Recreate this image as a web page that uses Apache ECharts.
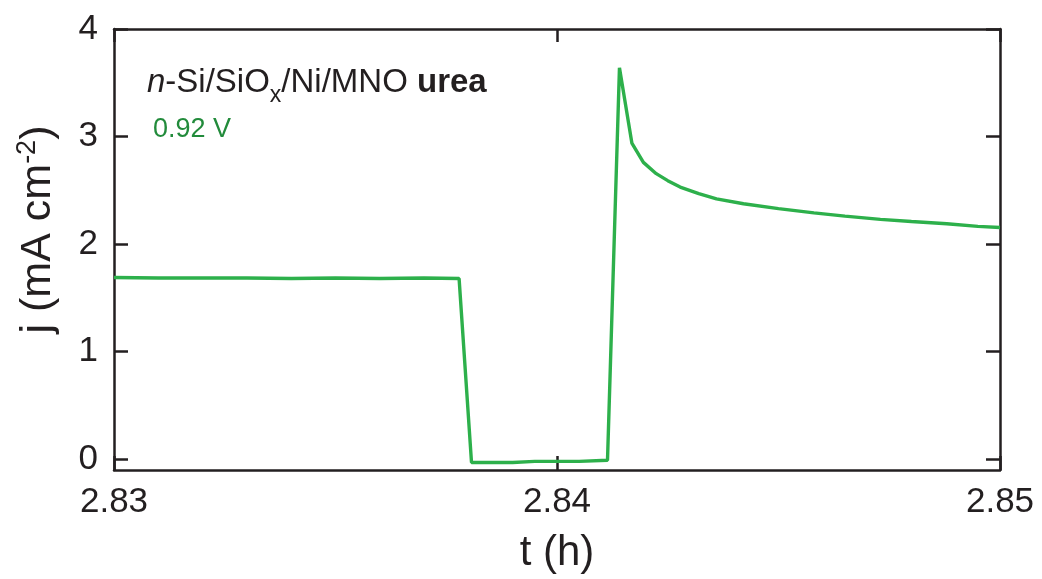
<!DOCTYPE html>
<html>
<head>
<meta charset="utf-8">
<script src="https://cdn.jsdelivr.net/npm/echarts@6/dist/echarts.min.js"></script>
<style>
html,body{margin:0;padding:0;background:#fff;}
#c{width:1042px;height:579px;}
</style>
</head>
<body>
<div id="c"></div>
<script>
// time (h)
const tValues = [
  2.8300, 2.8310, 2.8320, 2.8330, 2.8340, 2.8350, 2.8360, 2.8370, 2.83779,
  2.83807, 2.8385, 2.8390, 2.8395, 2.8400, 2.8405, 2.84114,
  2.84141, 2.84169, 2.84195, 2.84224, 2.84250, 2.84278, 2.84320, 2.84360,
  2.84421, 2.84500, 2.84580, 2.84650, 2.84730, 2.84800, 2.84880, 2.84950, 2.85000
];
// current density j (mA cm^-2)
const jValues = [
  1.69, 1.685, 1.685, 1.685, 1.68, 1.685, 1.68, 1.685, 1.68,
  -0.03, -0.03, -0.03, -0.02, -0.02, -0.02, -0.01,
  3.64, 2.94, 2.76, 2.655, 2.59, 2.53, 2.47, 2.42,
  2.375, 2.33, 2.29, 2.26, 2.23, 2.21, 2.19, 2.165, 2.155
];
const xTicks = [2.83, 2.84, 2.85];
const yTicks = [0, 1, 2, 3, 4];

const data = tValues.map((t, i) => [t, jValues[i]]);
const frame = '#231f20';
const green = '#2db04b';
const font = '"Liberation Sans", Arial, sans-serif';

const chart = echarts.init(document.getElementById('c'));
const axisCommon = {
  axisLine: {show: true, onZero: false, lineStyle: {color: frame, width: 2.5}},
  axisTick: {show: true, inside: true, length: 14, lineStyle: {color: frame, width: 2.5}},
  splitLine: {show: false}
};
chart.setOption({
  animation: false,
  backgroundColor: '#fff',
  grid: {left: 114, top: 29, right: 42, bottom: 109, containLabel: false},
  xAxis: [
    Object.assign({}, axisCommon, {
      type: 'value', min: 2.83, max: 2.85, interval: 0.01, position: 'bottom',
      axisTick: Object.assign({}, axisCommon.axisTick, {customValues: xTicks}),
      axisLabel: {customValues: xTicks, formatter: v => v.toFixed(2), fontSize: 35, color: frame, fontFamily: font, margin: 15},
      name: 't (h)', nameLocation: 'middle', nameGap: 62,
      nameTextStyle: {fontSize: 42, color: frame, fontFamily: font}
    }),
    Object.assign({}, axisCommon, {
      type: 'value', min: 2.83, max: 2.85, interval: 0.01, position: 'top',
      axisTick: Object.assign({}, axisCommon.axisTick, {customValues: xTicks, length: 13}),
      axisLabel: {show: false}
    })
  ],
  yAxis: [
    Object.assign({}, axisCommon, {
      type: 'value', min: -0.1, max: 4, position: 'left',
      axisTick: Object.assign({}, axisCommon.axisTick, {customValues: yTicks}),
      axisLabel: {customValues: yTicks, fontSize: 35, color: frame, fontFamily: font, margin: 16},
      name: '{a|j (mA cm}{s|-2}{a|)}', nameLocation: 'middle', nameGap: 54,
      nameTextStyle: {
        color: frame, fontFamily: font, fontSize: 43,
        padding: [0, 0, 0, 40],
        rich: {
          a: {fontSize: 43, color: frame, fontFamily: font, lineHeight: 46, verticalAlign: 'bottom'},
          s: {fontSize: 27, color: frame, fontFamily: font, lineHeight: 46, verticalAlign: 'top', padding: [0, 0, 16, 0]}
        }
      }
    }),
    Object.assign({}, axisCommon, {
      type: 'value', min: -0.1, max: 4, position: 'right',
      axisTick: Object.assign({}, axisCommon.axisTick, {customValues: yTicks}),
      axisLabel: {show: false}
    })
  ],
  series: [{
    type: 'line', data: data, xAxisIndex: 0, yAxisIndex: 0,
    showSymbol: false, symbol: 'none',
    lineStyle: {color: green, width: 3.4},
    z: 1
  }],
  graphic: [
    {
      type: 'text', left: 147, top: 66,
      style: {
        text: '{i|n}{r|-Si/SiO}{x|x}{r|/Ni/MNO }{b|urea}',
        rich: {
          i: {fontSize: 33, fontStyle: 'italic', fill: frame, fontFamily: font, lineHeight: 38, verticalAlign: 'bottom', padding: [0, 0, 8, 0]},
          r: {fontSize: 33, fill: frame, fontFamily: font, lineHeight: 38, verticalAlign: 'bottom', padding: [0, 0, 8, 0]},
          x: {fontSize: 23, fill: frame, fontFamily: font, lineHeight: 24, verticalAlign: 'bottom'},
          b: {fontSize: 33, fontWeight: 'bold', fill: frame, fontFamily: font, lineHeight: 38, verticalAlign: 'bottom', padding: [0, 0, 8, 0]}
        }
      }
    },
    {
      type: 'text', left: 153, top: 116,
      style: {text: '0.92 V', fontSize: 27, fill: '#228b3b', fontFamily: font}
    }
  ]
});
</script>
</body>
</html>
